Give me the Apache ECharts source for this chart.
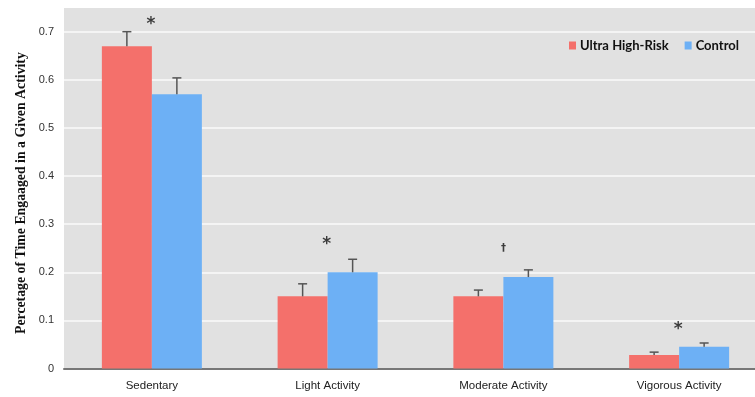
<!DOCTYPE html>
<html>
<head>
<meta charset="utf-8">
<script src="https://cdn.jsdelivr.net/npm/echarts@6/dist/echarts.min.js"></script>
<style>html,body{margin:0;padding:0;background:#fff}#c{width:755px;height:397px}</style>
</head>
<body>
<div id="c"></div>
<script>
var categories = ['Sedentary', 'Light Activity', 'Moderate Activity', 'Vigorous Activity'];
var uhrValues = [0.67, 0.15, 0.15, 0.028];
var uhrErrTop = [0.70, 0.176, 0.163, 0.034];
var ctlValues = [0.57, 0.20, 0.19, 0.045];
var ctlErrTop = [0.604, 0.227, 0.205, 0.053];
var sigMarks = ['*', '*', '\u2020', '*'];
var sigY = [0.722, 0.263, 0.25, 0.087];
var yTicks = [0, 0.1, 0.2, 0.3, 0.4, 0.5, 0.6, 0.7];

var chart = echarts.init(document.getElementById('c'), null, {renderer: 'canvas'});
var catGap = 0.431;

function errSeries(values, tops, side) {
  return {
    type: 'custom',
    silent: true,
    z: 5,
    data: values.map(function (v, i) { return [i, v, tops[i]]; }),
    encode: {x: 0, y: [1, 2]},
    renderItem: function (params, api) {
      var catW = api.size([1, 0])[0];
      var bw = catW * (1 - catGap) / 2;
      var p0 = api.coord([api.value(0), api.value(1)]);
      var p1 = api.coord([api.value(0), api.value(2)]);
      var x = p0[0] + side * bw / 2;
      var st = {stroke: '#555', lineWidth: 1.5};
      return {
        type: 'group',
        children: [
          {type: 'line', shape: {x1: x, y1: p0[1], x2: x, y2: p1[1]}, style: st},
          {type: 'line', shape: {x1: x - 4.5, y1: p1[1], x2: x + 4.5, y2: p1[1]}, style: st}
        ]
      };
    }
  };
}

chart.setOption({
  animation: false,
  backgroundColor: '#fff',
  graphic: [{
    type: 'rect', z: -10, silent: true,
    shape: {x: 64, y: 8, width: 691, height: 361},
    style: {fill: '#e1e1e1'}
  }],
  grid: {left: 64, width: 703, top: 31.7, bottom: 28.5, containLabel: false, outerBoundsMode: 'none'},
  legend: {
    data: ['Ultra High-Risk', 'Control'],
    orient: 'horizontal',
    left: 564, top: 34, width: 200,
    itemWidth: 7, itemHeight: 8, itemGap: 16,
    icon: 'rect',
    textStyle: {fontFamily: 'Lato', fontWeight: 'bold', fontSize: 13, color: '#111', padding: [0, 0, 0, -1]}
  },
  xAxis: {
    type: 'category',
    data: categories,
    axisLine: {lineStyle: {color: '#777', width: 2}},
    axisTick: {show: false},
    axisLabel: {color: '#222', fontFamily: 'Liberation Sans', fontSize: 11.5, margin: 11}
  },
  yAxis: {
    type: 'value',
    min: 0, max: 0.7, interval: 0.1,
    name: 'Percetage of Time Engaaged in a Given Activity',
    nameLocation: 'middle',
    nameGap: 36,
    nameMoveOverlap: false,
    nameTextStyle: {fontFamily: 'Liberation Serif', fontWeight: 'bold', fontSize: 13.8, color: '#111', padding: [0, 0, 0, 14]},
    axisLine: {show: false},
    axisTick: {show: false},
    axisLabel: {
      color: '#333', fontFamily: 'Liberation Sans', fontSize: 11, margin: 10,
      formatter: function (v) {
        var t = yTicks.filter(function (k) { return Math.abs(k - v) < 1e-9; });
        return t.length ? (t[0] === 0 ? '0' : t[0].toFixed(1)) : '';
      }
    },
    splitLine: {lineStyle: {color: '#fafafa', width: 1.5}}
  },
  series: [
    {
      name: 'Ultra High-Risk', type: 'bar', data: uhrValues,
      barGap: '0%', barCategoryGap: (catGap * 100) + '%',
      itemStyle: {color: '#f4706b'}, z: 3
    },
    {
      name: 'Control', type: 'bar', data: ctlValues,
      barGap: '0%', barCategoryGap: (catGap * 100) + '%',
      itemStyle: {color: '#6db0f5'}, z: 3
    },
    errSeries(uhrValues, uhrErrTop, -1),
    errSeries(ctlValues, ctlErrTop, 1),
    {
      type: 'scatter',
      silent: true,
      clip: false,
      symbol: 'circle',
      symbolSize: 2,
      itemStyle: {color: 'rgba(0,0,0,0)'},
      data: sigY.map(function (v, i) {
        return {
          value: [i, v],
          label: sigMarks[i] === '*' ? {fontSize: 17, offset: [-1, 3]} : {fontSize: 10, offset: [0, 0]}
        };
      }),
      label: {
        show: true, position: 'inside',
        formatter: function (p) { return sigMarks[p.dataIndex]; },
        fontFamily: 'DejaVu Sans', fontWeight: 'bold', color: '#111'
      },
      z: 6
    }
  ]
});
</script>
</body>
</html>
